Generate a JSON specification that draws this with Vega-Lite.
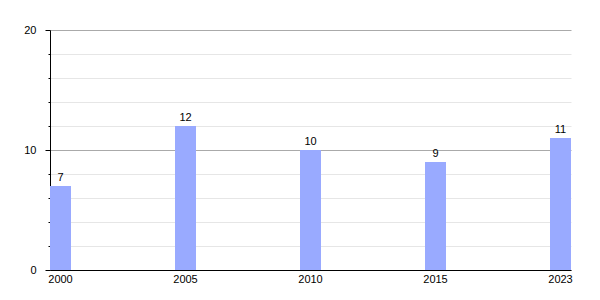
{
  "$schema": "https://vega.github.io/schema/vega-lite/v6.json",
  "width": 521,
  "height": 240,
  "autosize": {"type": "none"},
  "padding": {"left": 50, "top": 30, "right": 29, "bottom": 30},
  "background": "white",
  "config": {
    "view": {"stroke": null},
    "font": "Liberation Sans",
    "axis": {"labelFont": "Liberation Sans", "labelFontSize": 11, "labelColor": "#000", "domainColor": "#000", "tickColor": "#000"}
  },
  "data": {
    "values": [
      {"year": "2000", "value": 7},
      {"year": "2005", "value": 12},
      {"year": "2010", "value": 10},
      {"year": "2015", "value": 9},
      {"year": "2023", "value": 11}
    ]
  },
  "encoding": {
    "x": {
      "field": "year",
      "type": "ordinal",
      "scale": {"type": "band", "paddingInner": 0.832, "paddingOuter": 0},
      "axis": {"title": null, "labelAngle": 0, "ticks": false, "labelPadding": 3, "grid": false, "domainColor": "#000"}
    },
    "y": {
      "field": "value",
      "type": "quantitative",
      "scale": {"domain": [0, 20], "nice": false},
      "axis": {
        "title": null,
        "values": [0, 2, 4, 6, 8, 10, 12, 14, 16, 18, 20],
        "labelExpr": "datum.value % 10 === 0 ? datum.label : ''",
        "grid": true,
        "gridColor": {"condition": {"test": "datum.value % 10 === 0", "value": "#aaaaaa"}, "value": "#e6e6e6"},
        "tickSize": {"condition": {"test": "datum.value % 10 === 0", "value": 5}, "value": 2},
        "labelPadding": 9
      }
    }
  },
  "layer": [
    {"mark": {"type": "bar", "color": "#99aaff"}},
    {
      "mark": {"type": "text", "baseline": "alphabetic", "dy": -5, "fontSize": 11, "color": "#000"},
      "encoding": {"text": {"field": "value", "type": "quantitative"}}
    }
  ]
}
